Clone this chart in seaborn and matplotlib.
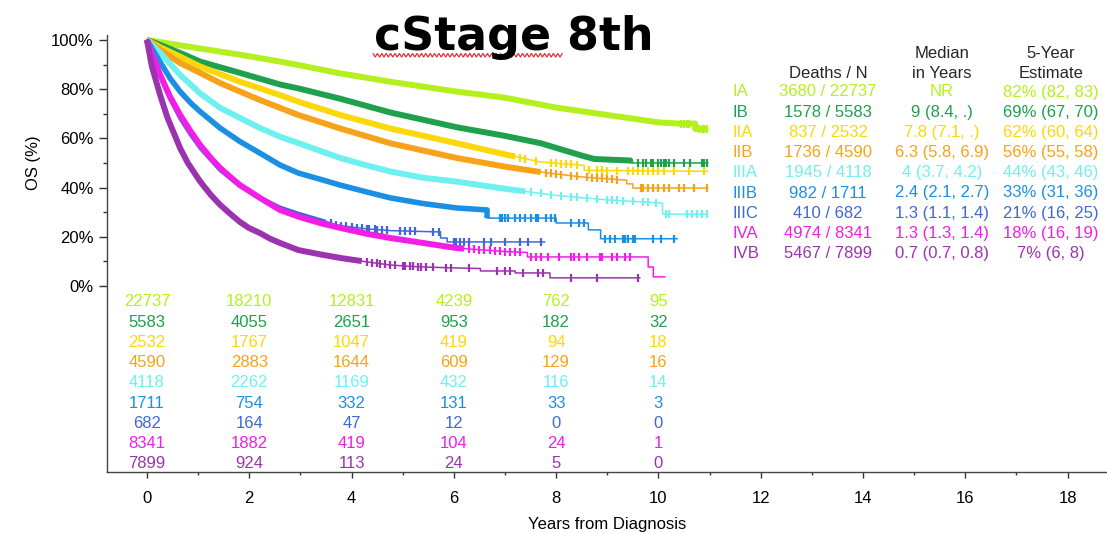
import numpy as np
import matplotlib
matplotlib.use("Agg")
import matplotlib.pyplot as plt
from matplotlib.lines import Line2D
from matplotlib.ticker import FixedLocator, FuncFormatter
import seaborn as sns

# ---- data -------------------------------------------------------------
stages = ["IA", "IB", "IIA", "IIB", "IIIA", "IIIB", "IIIC", "IVA", "IVB"]

# Kaplan-Meier curve vertices: years from diagnosis, overall survival (%)
t_IA = [0, 0.65, 1.04, 1.82, 2.6, 2.96, 3.78, 4.76, 6.06, 7, 8, 9, 10, 10.4,
        10.72, 10.72, 10.97]
s_IA = [100, 97.8, 96.5, 94, 91.2, 89.8, 86.4, 83, 79, 76.5, 72.5, 69.5, 66.5, 66,
        66, 63.8, 63.8]

t_IB = [0, 0.26, 0.65, 1.04, 1.82, 2.6, 2.96, 3.78, 4.76, 6.06, 7, 7.7, 8.5,
        8.75, 9.45, 9.45, 10.97]
s_IB = [100, 98, 94.7, 91.2, 86.6, 81.9, 80.3, 76.1, 70.5, 64.5, 61, 58, 53,
        51.6, 51, 50, 50]

t_IIA = [0, 0.26, 0.65, 1.04, 1.82, 2.6, 2.96, 3.78, 4.76, 6.06, 7, 7.7, 8.55,
         8.55, 10.97]
s_IIA = [100, 97, 93.2, 89.2, 83, 77.6, 74.9, 69.5, 64, 58, 53.5, 50.4, 49, 47,
         46.6]

t_IIB = [0, 0.26, 0.65, 1.04, 1.43, 1.82, 2.21, 2.6, 2.96, 3.78, 4.76, 6.06, 7,
         7.7, 8.5, 9.38, 9.38, 9.5, 9.5, 10.97]
s_IIB = [100, 96, 90.6, 86.6, 82.5, 79, 75.6, 72.4, 69.5, 64, 58, 52, 48.5,
         46.3, 44.3, 43, 41.5, 41.5, 39.8, 39.8]

t_IIIA = [0, 0.26, 0.65, 1.04, 1.43, 1.82, 2.21, 2.6, 2.96, 3.4, 3.78, 4.3,
          4.76, 5.4, 6.06, 7, 8, 9, 10.08, 10.08, 10.95]
s_IIIA = [100, 94.7, 85.8, 78.3, 72.4, 68.3, 64.2, 60.7, 58.1, 54.8, 52, 49,
          46.5, 44, 42.4, 39.5, 36.8, 35, 33.7, 29.2, 29.2]

t_IIIB = [0, 0.1, 0.26, 0.45, 0.65, 0.85, 1.04, 1.43, 1.82, 2.21, 2.6, 2.96,
          3.4, 3.78, 4.3, 4.76, 5.4, 6.06, 6.65, 6.65, 8.0, 8.0, 8.63, 8.63,
          8.87, 8.87, 10.37]
s_IIIB = [100, 96.5, 91, 84.5, 79, 74.5, 70.9, 64.2, 58.7, 54, 49.2, 45.9, 43.3,
          41, 38.2, 35.8, 33.5, 31.7, 30.9, 27.6, 27.6, 25.6, 25.6, 22.8, 22.8,
          19.2, 19.2]

t_IIIC = [0, 0.1, 0.26, 0.45, 0.65, 0.85, 1.04, 1.43, 1.82, 2.21, 2.6, 2.96,
          3.4, 3.78, 4.3, 4.76, 5.64, 5.74, 5.74, 5.87, 5.87, 7.78]
s_IIIC = [100, 94, 85, 76, 68, 61.5, 56, 47, 40.5, 36, 32, 29.5, 26.8, 24.5,
          23.2, 22.5, 22, 22, 19.5, 19.5, 17.9, 17.9]

t_IVA = [0, 0.1, 0.26, 0.45, 0.65, 0.85, 1.04, 1.25, 1.43, 1.62, 1.82, 2.21,
         2.6, 2.96, 3.4, 3.78, 4.3, 4.76, 5.3, 6.06, 7, 7.44, 7.44, 9.8, 9.8,
         9.9, 9.9, 10.13]
s_IVA = [100, 94, 85.8, 77, 69.5, 63, 57.3, 52, 48, 44.5, 41, 35.8, 30.9, 28.2,
         25.5, 23.6, 21.2, 19.5, 17.8, 15.4, 14, 13.6, 11.8, 11.8, 7.7, 7.7,
         3.7, 3.7]

t_IVB = [0, 0.1, 0.26, 0.4, 0.65, 0.8, 1.04, 1.25, 1.43, 1.62, 1.82, 2.0, 2.21,
         2.4, 2.6, 2.96, 3.4, 3.78, 4.3, 4.76, 5.3, 6.06, 6.52, 6.52, 7.2, 7.2,
         7.88, 7.88, 9.64]
s_IVB = [100, 89, 77.5, 68.5, 56, 50, 42.5, 37, 33, 29.5, 26, 23.5, 21.5, 19.3,
         17.5, 14.6, 12.8, 11.4, 9.8, 8.5, 7.8, 7.3, 7.1, 6.1, 6.1, 5.3, 5.3,
         3.3, 3.3]

# censoring times in the sparse tails
cens_IA = [10.45, 10.5, 10.55, 10.6, 10.8, 10.85, 10.9, 10.95]
cens_IB = [9.6, 9.7, 9.75, 9.85, 9.9, 10.0, 10.05, 10.1, 10.15, 10.2, 10.3,
           10.5, 10.62, 10.85, 10.9, 10.95]
cens_IIA = [7.3, 7.4, 7.6, 7.9, 8.0, 8.1, 8.2, 8.3, 8.4, 8.65, 8.8, 8.9, 9.0,
            9.2, 9.4, 9.5, 9.6, 9.7, 9.8, 9.9, 10.0, 10.1, 10.3, 10.6, 10.9]
cens_IIB = [7.8, 7.9, 8.0, 8.1, 8.3, 8.4, 8.6, 8.7, 8.8, 8.9, 9.0, 9.1, 9.2,
            9.65, 9.7, 9.8, 9.9, 10.0, 10.1, 10.2, 10.4, 10.5, 10.7, 10.95]
cens_IIIA = [7.5, 7.7, 7.9, 8.1, 8.3, 8.4, 8.6, 8.8, 9.0, 9.1, 9.2, 9.3, 9.5,
             9.7, 9.8, 9.95, 10.15, 10.2, 10.55, 10.65, 10.75, 10.85, 10.95]
cens_IIIB = [6.9, 6.95, 7.0, 7.05, 7.2, 7.3, 7.4, 7.5, 7.6, 7.65, 7.8, 7.9,
             7.98, 8.3, 8.45, 8.55, 8.95, 9.05, 9.15, 9.3, 9.35, 9.4, 9.5, 9.55,
             9.9, 10.05, 10.3]
cens_IIIC = [3.6, 3.7, 3.8, 3.9, 4.0, 4.1, 4.2, 4.3, 4.35, 4.45, 4.5, 4.6, 4.7,
             4.95, 5.05, 5.15, 5.25, 5.6, 5.72, 6.0, 6.05, 6.12, 6.2, 6.3, 6.6,
             6.72, 7.0, 7.3, 7.45, 7.7]
cens_IVA = [6.3, 6.4, 6.5, 6.6, 6.7, 6.8, 6.9, 7.0, 7.1, 7.2, 7.3, 7.5, 7.6,
            7.7, 7.85, 8.05, 8.3, 8.35, 8.45, 8.6, 8.85, 8.9, 9.1, 9.2, 9.35, 9.45]
cens_IVB = [4.3, 4.4, 4.5, 4.55, 4.65, 4.75, 4.85, 5.0, 5.05, 5.15, 5.2, 5.3,
            5.35, 5.45, 5.6, 5.85, 5.95, 6.3, 6.85, 7.0, 7.1, 7.35, 7.65, 7.75,
            8.3, 8.8, 9.6]

deaths_n = ["3680 / 22737", "1578 / 5583", "837 / 2532", "1736 / 4590",
            "1945 / 4118", "982 / 1711", "410 / 682", "4974 / 8341", "5467 / 7899"]
median_years = ["NR", "9 (8.4, .)", "7.8 (7.1, .)", "6.3 (5.8, 6.9)",
                "4 (3.7, 4.2)", "2.4 (2.1, 2.7)", "1.3 (1.1, 1.4)",
                "1.3 (1.3, 1.4)", "0.7 (0.7, 0.8)"]
five_year = ["82% (82, 83)", "69% (67, 70)", "62% (60, 64)", "56% (55, 58)",
             "44% (43, 46)", "33% (31, 36)", "21% (16, 25)", "18% (16, 19)",
             "7% (6, 8)"]

risk_times = [0, 2, 4, 6, 8, 10]
risk_IA = [22737, 18210, 12831, 4239, 762, 95]
risk_IB = [5583, 4055, 2651, 953, 182, 32]
risk_IIA = [2532, 1767, 1047, 419, 94, 18]
risk_IIB = [4590, 2883, 1644, 609, 129, 16]
risk_IIIA = [4118, 2262, 1169, 432, 116, 14]
risk_IIIB = [1711, 754, 332, 131, 33, 3]
risk_IIIC = [682, 164, 47, 12, 0, 0]
risk_IVA = [8341, 1882, 419, 104, 24, 1]
risk_IVB = [7899, 924, 113, 24, 5, 0]

curves_t = [t_IA, t_IB, t_IIA, t_IIB, t_IIIA, t_IIIB, t_IIIC, t_IVA, t_IVB]
curves_s = [s_IA, s_IB, s_IIA, s_IIB, s_IIIA, s_IIIB, s_IIIC, s_IVA, s_IVB]
censors = [cens_IA, cens_IB, cens_IIA, cens_IIB, cens_IIIA, cens_IIIB,
           cens_IIIC, cens_IVA, cens_IVB]
at_risk = [risk_IA, risk_IB, risk_IIA, risk_IIB, risk_IIIA, risk_IIIB,
           risk_IIIC, risk_IVA, risk_IVB]

# ---- style ------------------------------------------------------------
colors = ["#b4f01e", "#1ea04c", "#fcd80a", "#f7a319", "#6ff0f0",
          "#1a8fe3", "#3f67d6", "#f21ee8", "#9b33b0"]
# where each band of dense censoring gives way to a thin line
thick_until = [10.97, 9.45, 7.2, 7.7, 7.4, 6.65, 3.5, 6.2, 4.2]
thick_width = [4.3, 4.3, 4.3, 4.3, 4.3, 4.0, 2.6, 4.3, 4.3]

sns.set_theme(style="ticks")
plt.rcParams["font.family"] = ["Liberation Sans", "DejaVu Sans"]
plt.rcParams["axes.unicode_minus"] = False

W, H = 1107, 533
fig = plt.figure(figsize=(W / 100, H / 100), dpi=100)
fig.patch.set_facecolor("white")


def fx(px):
    return px / W


def fy(py):
    return 1 - py / H


ax = fig.add_axes([fx(107), fy(472), fx(1107) - fx(107), fy(35) - fy(472)])
ax.set_facecolor("white")

for i, st in enumerate(stages):
    t = np.asarray(curves_t[i], float)
    s = np.asarray(curves_s[i], float)
    col = colors[i]
    sns.lineplot(x=t, y=s, ax=ax, color=col, lw=1.1, estimator=None,
                 sort=False, legend=False)
    cut = thick_until[i]
    keep = t <= cut
    tt = np.append(t[keep], cut)
    ss = np.append(s[keep], np.interp(cut, t, s))
    sns.lineplot(x=tt, y=ss, ax=ax, color=col, lw=thick_width[i],
                 estimator=None, sort=False, legend=False,
                 solid_capstyle="butt", solid_joinstyle="round")
    ct = np.asarray(censors[i], float)
    ax.plot(ct, np.interp(ct, t, s), ls="none", marker="|", ms=5.5, mew=1.6,
            color=col)

# number at risk beneath the curves
row_top, row_step = -6.5, 8.22
for i in range(len(stages)):
    for j, tm in enumerate(risk_times):
        ax.text(tm, row_top - i * row_step, f"{at_risk[i][j]}", color=colors[i],
                ha="center", va="center", fontsize=12)

ax.set_xlim(-0.78, 18.77)
ax.set_ylim(-75.6, 102)
ax.xaxis.set_major_locator(FixedLocator(np.arange(0, 19, 2)))
ax.xaxis.set_minor_locator(FixedLocator(np.arange(1, 19, 2)))
ax.yaxis.set_major_locator(FixedLocator(np.arange(0, 101, 20)))
ax.yaxis.set_minor_locator(FixedLocator(np.arange(10, 100, 20)))
ax.yaxis.set_major_formatter(FuncFormatter(lambda v, p: f"{v:.0f}%"))
ax.tick_params(axis="both", which="major", labelsize=12, colors="#333333",
               labelcolor="black")
ax.tick_params(axis="x", which="major", length=4.5, width=1, pad=9)
ax.tick_params(axis="x", which="minor", length=2.5, width=1, colors="#333333")
ax.tick_params(axis="y", which="major", length=5.5, width=1, pad=4)
ax.tick_params(axis="y", which="minor", length=3, width=1, colors="#333333")
for side in ("top", "right"):
    ax.spines[side].set_visible(False)
for side in ("left", "bottom"):
    ax.spines[side].set_color("#444444")
    ax.spines[side].set_linewidth(1.0)

ax.set_xlabel("Years from Diagnosis", fontsize=12, color="black")
ax.xaxis.set_label_coords(0.5, -0.103)
ax.set_ylabel("OS (%)", fontsize=12, color="black")
ax.yaxis.set_label_coords(-0.066, 0.707)

# title with a spell-check squiggle under the first word
fig.text(fx(514), fy(50), "cStage 8th", ha="center", va="baseline",
         fontsize=33, fontweight="bold", family="DejaVu Sans", color="black")
zx = np.arange(373, 564, 2.2)
zy = np.where(np.arange(len(zx)) % 2 == 0, 53.5, 57)
fig.add_artist(Line2D(fx(zx), fy(zy), color="#e03030", lw=0.9))

# summary table to the right of the curves
col_stage, col_dn, col_med, col_five = 733, 828, 942, 1051
hdr1, hdr2 = 53, 73
fig.text(fx(col_med), fy(hdr1), "Median", ha="center", va="center", fontsize=12)
fig.text(fx(col_five), fy(hdr1), "5-Year", ha="center", va="center", fontsize=12)
fig.text(fx(col_dn), fy(hdr2), "Deaths / N", ha="center", va="center", fontsize=12)
fig.text(fx(col_med), fy(hdr2), "in Years", ha="center", va="center", fontsize=12)
fig.text(fx(col_five), fy(hdr2), "Estimate", ha="center", va="center", fontsize=12)
row0, rstep = 92, 20.2
for i, st in enumerate(stages):
    yy = fy(row0 + i * rstep)
    c = colors[i]
    fig.text(fx(col_stage), yy, st, ha="left", va="center", fontsize=12, color=c)
    fig.text(fx(col_dn), yy, deaths_n[i], ha="center", va="center", fontsize=12, color=c)
    fig.text(fx(col_med), yy, median_years[i], ha="center", va="center", fontsize=12, color=c)
    fig.text(fx(col_five), yy, five_year[i], ha="center", va="center", fontsize=12, color=c)

fig.savefig("out.png", dpi=100, facecolor="white")
